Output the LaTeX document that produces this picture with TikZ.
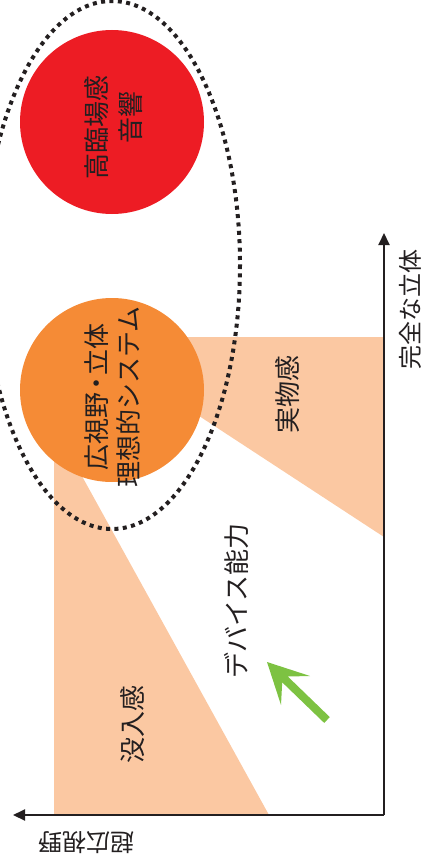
\documentclass[tikz,border=0pt]{standalone}
\usepackage{fontspec}
\newfontfamily\jp{Noto Sans CJK JP}
\usetikzlibrary{arrows.meta}
\definecolor{redc}{HTML}{ED1C24}
\definecolor{orangec}{HTML}{F58B36}
\definecolor{peach}{HTML}{FBC8A2}
\definecolor{ink}{HTML}{231F20}
\definecolor{greenc}{HTML}{7DC242}
\begin{document}
\begin{tikzpicture}[x=1pt,y=-1pt,
  lbl/.style={font=\jp\fontsize{26}{32}\selectfont, text=ink, inner sep=0pt, rotate=90, align=center},
  axlbl/.style={font=\jp\fontsize{24}{28}\selectfont, text=ink, inner sep=0pt},
  ball/.style={circle, minimum size=184pt, inner sep=0pt},
  axis/.style={draw=ink, line width=2pt, -{Triangle[length=12pt,width=11pt]}}]
\useasboundingbox (0,0) rectangle (429,867);
% peach regions
\fill[peach] (112,337) -- (384,337) -- (384,537) -- (112,359) -- cycle;
\fill[peach] (54,815) -- (269,815) -- (83,478) -- (70,440) -- (54,440) -- cycle;
% circles
\node[ball, fill=redc] (red) at (112,122) {};
\node[ball, fill=orangec] (orange) at (112,390) {};
% dotted ellipse
\draw[ink, line width=4pt, dash pattern=on 4pt off 4.4pt] (112,265) ellipse [x radius=128, y radius=264];
% axes
\coordinate (origin) at (384,815);
\coordinate (ytip) at (384,233);
\coordinate (xtip) at (13,815);
\draw[axis] (origin) -- (ytip);
\draw[axis] (origin) -- (xtip);
% labels
\node[lbl] (red1) at (97,127) {高臨場感};
\node[lbl] (red2) at (131,117) {音響};
\node[lbl] (orangetxt) at (112.5,397) {広視野\kern-5pt・\kern-5pt立体\\理想的システム};
\node[lbl] (jitsu) at (288,394) {実物感};
\node[lbl] (device) at (237,601) {デバイス能力};
\node[lbl] (bot) at (133,724) {没入感};
\node[axlbl, rotate=90] (ylbl) at (410,309) {完全な立体};
\node[axlbl, rotate=180] (xlbl) at (86,843) {超広視野};
% green arrow
\fill[greenc] (267,662) -- (310,676) -- (287.8,676.5) -- (329.8,717.1) -- (324.2,722.9) -- (282.2,682.3) -- (281,705) -- cycle;
\end{tikzpicture}
\end{document}
